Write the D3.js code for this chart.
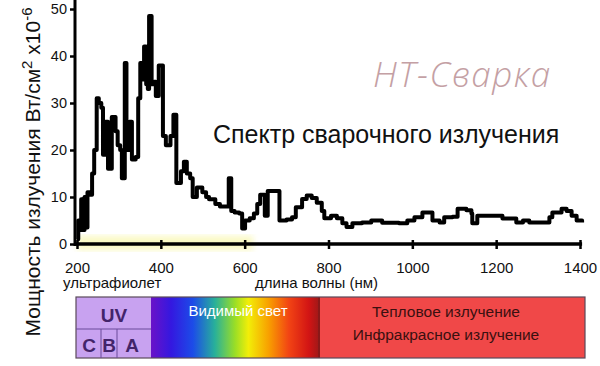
<!DOCTYPE html>
<html><head><meta charset="utf-8">
<script src="https://cdn.jsdelivr.net/npm/d3@7/dist/d3.min.js"></script>
<style>
body{margin:0;background:#fff}
svg{display:block;font-family:"Liberation Sans",Arial,sans-serif}
</style>
</head><body><script>
// spectrum (nm, W/cm2 x1e-6), drawn as steps
var wavelength=[200,203,206,210,213,218,222,225,232,236,241,247,252,258,262,268,274,283,292,297,303,307,314,318,325,331,340,346,351,356,360,365,369,372,378,384,388,395,405,412,423,430,437,448,455,462,470,476,486,499,508,515,530,541,562,568,576,587,594,601,612,622,630,637,648,655,683,700,713,722,737,748,760,772,784,790,806,820,833,843,857,880,902,928,968,988,1005,1024,1041,1048,1065,1076,1096,1108,1129,1141,1143,1155,1184,1215,1248,1264,1279,1310,1327,1334,1356,1368,1380,1392,1405];
var power=[1,5,3,9.5,3,10,3.5,11,10.5,15,20,31,30,29,19,26,16,27,24,21,20,14,38.5,20,26,18,18.5,31,38.5,35,42,34,33,48.5,34,34.5,31.5,38,23,21,23,27.5,13,15.5,17.5,15,14,10,12,11,10,9.5,8.5,8,14,7,6.7,6.5,3.3,5,5.5,6.5,8.5,10.5,6,11.3,5,5.2,5.7,7.8,9.6,10.3,9.8,8.8,7,5.5,6,5.5,4.4,3.6,4.4,4.6,5,4.5,4.4,5,5.7,6.7,6.7,5,4.6,5.7,5.8,7.5,7.2,6.5,4.4,6,6,5.4,4.6,5,4.6,4.6,5.7,6.7,7.5,7,6,5,4.6];
var xTicks=[200,400,600,800,1000,1200,1400];
var yTicks=[0,10,20,30,40,50];

// band under the chart
var uvSub=["C","B","A"];
var visStops=[["0%","#6a12c8"],["12%","#3418e0"],["25%","#1c4ce8"],["38%","#28b09a"],["50%","#9ade26"],["58%","#f2ee08"],["70%","#f8a000"],["82%","#f24414"],["94%","#d21414"],["100%","#a01818"]];

var W=600,H=366;
var svg=d3.select("body").append("svg").attr("width",W).attr("height",H);
var defs=svg.append("defs");

var x=d3.scaleLinear().domain([200,1400]).range([77,580]);
var y=d3.scaleLinear().domain([0,50]).range([244,9]);

// pale yellow glow along the base
defs.append("filter").attr("id","blur").append("feGaussianBlur").attr("stdDeviation",3);
svg.append("rect").attr("x",x(200)).attr("y",236).attr("width",x(620)-x(200)).attr("height",14)
  .attr("fill","#f6f59a").attr("opacity",0.6).attr("filter","url(#blur)");

// y axis
var ya=svg.append("g").attr("transform","translate(75,0)")
  .call(d3.axisLeft(y).tickValues(yTicks).tickSize(5).tickPadding(3).tickSizeOuter(0));
ya.select(".domain").remove();
ya.selectAll("line").attr("stroke","#000").attr("stroke-width",2.5);
ya.selectAll("text").attr("font-size",14.5).attr("font-family","Liberation Sans, Arial, sans-serif").attr("fill","#111");
svg.append("line").attr("x1",75).attr("x2",75).attr("y1",0).attr("y2",246).attr("stroke","#000").attr("stroke-width",3);

// x axis
var xa=svg.append("g").attr("transform","translate(0,244)")
  .call(d3.axisBottom(x).tickValues(xTicks).tickFormat(d3.format("d")).tickSize(5).tickPadding(13).tickSizeOuter(0));
xa.select(".domain").remove();
xa.selectAll("line").attr("y1",-4).attr("stroke","#000").attr("stroke-width",2.5);
xa.selectAll("text").attr("font-size",15).attr("font-family","Liberation Sans, Arial, sans-serif").attr("fill","#111");
svg.append("line").attr("x1",74).attr("x2",x(1405)).attr("y1",244).attr("y2",244).attr("stroke","#000").attr("stroke-width",3.5);

// spectrum line
var pts=wavelength.map(function(w,i){return [w,power[i]];});
svg.append("path").datum(pts)
  .attr("d",d3.line().x(function(d){return x(d[0]);}).y(function(d){return y(d[1]);}).curve(d3.curveStepAfter))
  .attr("fill","none").attr("stroke","#000").attr("stroke-width",4).attr("stroke-linejoin","round");

// y label
var yl=svg.append("text").attr("transform","translate(40,172) rotate(-90)")
  .attr("text-anchor","middle").attr("font-size",21).attr("fill","#111");
yl.append("tspan").text("Мощность излучения Вт/см");
yl.append("tspan").attr("baseline-shift","super").attr("font-size",15).text("2");
yl.append("tspan").text(" x10");
yl.append("tspan").attr("baseline-shift","super").attr("font-size",15).text("-6");

// title and watermark
svg.append("text").attr("x",213).attr("y",143).attr("font-size",25).attr("fill","#111").text("Спектр сварочного излучения");
svg.append("text").attr("x",373).attr("y",87).attr("font-size",35).attr("font-style","italic").attr("font-weight",300)
  .attr("letter-spacing",1.5).attr("font-family","Open Sans, sans-serif").attr("fill","#c4a0a4").text("НТ-Сварка");

svg.append("text").attr("x",63).attr("y",288).attr("font-size",15).attr("fill","#111").text("ультрафиолет");
svg.append("text").attr("x",255).attr("y",288).attr("font-size",15).attr("fill","#111").text("длина волны (нм)");

// band
var g=defs.append("linearGradient").attr("id","vis");
g.selectAll("stop").data(visStops).enter().append("stop")
  .attr("offset",function(d){return d[0];}).attr("stop-color",function(d){return d[1];});

var bTop=297,bBot=358,uvR=151,visR=319,bR=585;
svg.append("rect").attr("x",76).attr("y",bTop).attr("width",uvR-76).attr("height",bBot-bTop).attr("fill","#c8a2f0");
svg.append("rect").attr("x",uvR).attr("y",bTop).attr("width",visR-uvR).attr("height",bBot-bTop).attr("fill","url(#vis)");
svg.append("rect").attr("x",visR).attr("y",bTop).attr("width",bR-visR).attr("height",bBot-bTop).attr("fill","#f04848");
svg.append("line").attr("x1",visR).attr("x2",visR).attr("y1",bTop).attr("y2",bBot).attr("stroke","#8a1818").attr("stroke-width",2);
svg.append("rect").attr("x",76).attr("y",bTop).attr("width",bR-76).attr("height",bBot-bTop)
  .attr("fill","none").attr("stroke","#5a4a5a").attr("stroke-width",1.2);
svg.append("line").attr("x1",76).attr("x2",uvR).attr("y1",329).attr("y2",329).attr("stroke","#6a4a9a").attr("stroke-width",1);
[101,117].forEach(function(px){
  svg.append("line").attr("x1",px).attr("x2",px).attr("y1",329).attr("y2",bBot).attr("stroke","#6a4a9a").attr("stroke-width",1);
});
svg.append("text").attr("x",114).attr("y",322).attr("text-anchor","middle").attr("font-size",19).attr("font-weight","bold").attr("fill","#43246a").text("UV");
svg.selectAll(".uvs").data(uvSub).enter().append("text")
  .attr("x",function(d,i){return [89,109,132][i];}).attr("y",352).attr("text-anchor","middle")
  .attr("font-size",19).attr("font-weight","bold").attr("fill","#43246a").text(function(d){return d;});
svg.append("text").attr("x",238).attr("y",316).attr("text-anchor","middle").attr("font-size",15).attr("fill","#fff").text("Видимый свет");
svg.append("text").attr("x",446).attr("y",317).attr("text-anchor","middle").attr("font-size",15.5).attr("fill","#3a1010").text("Тепловое излучение");
svg.append("text").attr("x",446).attr("y",340).attr("text-anchor","middle").attr("font-size",15.5).attr("fill","#3a1010").text("Инфракрасное излучение");
</script></body></html>
